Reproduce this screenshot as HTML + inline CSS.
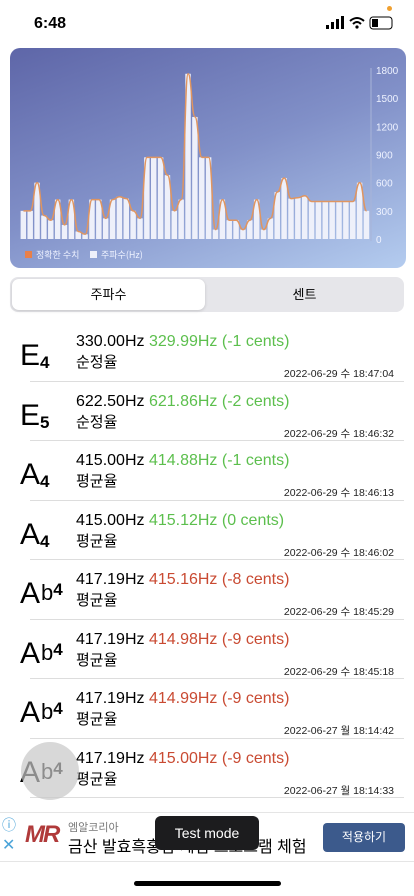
<!DOCTYPE html>
<html><head><meta charset="utf-8"><style>
*{margin:0;padding:0;box-sizing:border-box}
body{width:414px;height:896px;overflow:hidden;background:#fff;font-family:"Liberation Sans","Noto Sans CJK KR",sans-serif;position:relative;color:#000}
.abs{position:absolute}
.row{position:absolute;left:0;width:414px;height:59.5px}
.note{position:absolute;left:20px;top:20px;font-size:30px;line-height:30px;white-space:nowrap}
.note sub{font-size:17px;vertical-align:baseline;position:relative;top:3px;font-weight:bold}
.note .fl{font-size:22px;position:relative;top:-3px;margin-left:1px}
.note .fs{font-size:17px;font-weight:bold;position:relative;top:-8px}
.l1{position:absolute;left:76px;top:12px;font-size:16px;white-space:nowrap}
.l2{position:absolute;left:76px;top:30px;font-size:15px}
.dt{position:absolute;right:20px;top:45px;font-size:10.5px;color:#222}
.div{position:absolute;left:30px;right:10px;bottom:-1px;height:1px;background:#ddd}
.g{color:#5cbf4d}.r{color:#c94a32}
</style></head><body>
<div class="abs" style="left:34px;top:15px;font-size:16px;font-weight:bold">6:48</div>
<div class="abs" style="left:326px;top:16px;width:70px;height:14px">
<svg width="70" height="14"><rect x="0" y="9" width="3" height="4" fill="#000"/><rect x="5" y="6" width="3" height="7" fill="#000"/><rect x="10" y="3" width="3" height="10" fill="#000"/><rect x="15" y="0" width="3" height="13" fill="#000"/><path d="M24 5 Q31 -1 38 5 M27 8 Q31 4 35 8" stroke="#000" stroke-width="2" fill="none"/><circle cx="31" cy="11" r="1.6"/><rect x="44" y="1" width="22" height="12" rx="3" fill="none" stroke="#000"/><rect x="46" y="3" width="6" height="8" fill="#000"/></svg></div>
<div class="abs" style="left:387px;top:6px;width:5px;height:5px;border-radius:50%;background:#f0a030"></div>

<div class="abs" style="left:10px;top:48px;width:396px;height:220px;border-radius:10px;background:linear-gradient(160deg,#5e66a8 0%,#8190c8 50%,#b4ccef 100%);overflow:hidden">
<svg id="chart" width="396" height="220"></svg>
</div>

<div class="abs" style="left:10px;top:277px;width:394px;height:35px;background:#e6e6ea;border-radius:8px">
<div class="abs" style="left:2px;top:2px;width:193px;height:31px;background:#fff;border-radius:7px;box-shadow:0 1px 3px rgba(0,0,0,.15);text-align:center;line-height:31px;font-size:13px">주파수</div>
<div class="abs" style="left:197px;top:2px;width:195px;height:31px;text-align:center;line-height:31px;font-size:13px">센트</div>
</div>

<div id="list"></div>

<div class="abs" style="left:0;top:812px;width:414px;height:50px;border-top:1px solid #e5e5e5;border-bottom:1px solid #e5e5e5">
<div class="abs" style="left:2px;top:2px;color:#4aa3d8;font-size:14px">ⓘ</div>
<div class="abs" style="left:2px;top:22px;color:#4aa3d8;font-size:16px">✕</div>
<div class="abs" style="left:25px;top:8px;font-size:24px;font-style:italic;font-weight:bold;color:#b03a3a;letter-spacing:-2px">MR</div>
<div class="abs" style="left:68px;top:6px;font-size:11px;color:#777">엠알코리아</div>
<div class="abs" style="left:68px;top:20px;font-size:16px">금산 발효흑홍삼 체험 프로그램 체험</div>
<div class="abs" style="left:323px;top:10px;width:82px;height:29px;background:#3c5a8c;color:#fff;border-radius:4px;text-align:center;line-height:29px;font-size:12px">적용하기</div>
</div>
<div class="abs" style="left:155px;top:816px;width:104px;height:34px;background:#1c1c1e;color:#fff;border-radius:6px;text-align:center;line-height:34px;font-size:14px">Test mode</div>
<div class="abs" style="left:134px;top:881px;width:147px;height:5px;border-radius:3px;background:#000"></div>

<script>
const values=[300,300,600,250,200,420,150,420,80,50,420,420,220,420,450,430,300,220,870,870,870,680,300,420,1760,1300,870,870,100,420,200,200,100,200,420,100,220,500,650,430,440,460,400,400,400,400,400,400,400,600,300];
const ticks=[0,300,600,900,1200,1500,1800];
const NS="http://www.w3.org/2000/svg";
const svg=document.getElementById('chart');
const x0=10,x1=360,yb=191,yt=22,ymax=1800;
const bw=(x1-x0)/values.length;
const X=i=>x0+i*bw, Y=v=>yb-(v/ymax)*(yb-yt);
function mk(t,a){const e=document.createElementNS(NS,t);for(const k in a)e.setAttribute(k,a[k]);svg.appendChild(e);return e;}
const axis=mk('line',{x1:361,y1:20,x2:361,y2:193,stroke:'#a8b4d8','stroke-width':1});


ticks.forEach(t=>{const e=mk('text',{x:366,y:Y(t)+4,fill:'#eef2ff','font-size':10,'font-family':'Liberation Sans'});e.textContent=t;

});
values.forEach((v,i)=>{const r=mk('rect',{x:X(i)+0.6,y:Y(v),width:bw-1.4,height:yb-Y(v),fill:'#eef0fa'});

});
let d='';values.forEach((v,i)=>{const cx=X(i)+bw/2,cy=Y(v);if(i==0)d+='M'+cx+' '+cy;else{const px=X(i-1)+bw/2,py=Y(values[i-1]);const mx=(px+cx)/2;d+=' C'+mx+' '+py+' '+mx+' '+cy+' '+cx+' '+cy;}});
const ln=mk('path',{d:d,fill:'none',stroke:'#e09560','stroke-width':1.5});


const lg1=mk('rect',{x:15,y:203,width:7,height:7,fill:'#e8804a'});


const t1=mk('text',{x:26,y:210,fill:'#eef2ff','font-size':9,'font-family':'Noto Sans CJK KR'});t1.textContent='정확한 수치';


const lg2=mk('rect',{x:80,y:203,width:7,height:7,fill:'#eef0fa'});


const t2=mk('text',{x:91,y:210,fill:'#eef2ff','font-size':9,'font-family':'Noto Sans CJK KR'});t2.textContent='주파수(Hz)';



const rows=[
['E','4','','330.00Hz','329.99Hz (-1 cents)','g','순정율','2022-06-29 수 18:47:04'],
['E','5','','622.50Hz','621.86Hz (-2 cents)','g','순정율','2022-06-29 수 18:46:32'],
['A','4','','415.00Hz','414.88Hz (-1 cents)','g','평균율','2022-06-29 수 18:46:13'],
['A','4','','415.00Hz','415.12Hz (0 cents)','g','평균율','2022-06-29 수 18:46:02'],
['A','4','b','417.19Hz','415.16Hz (-8 cents)','r','평균율','2022-06-29 수 18:45:29'],
['A','4','b','417.19Hz','414.98Hz (-9 cents)','r','평균율','2022-06-29 수 18:45:18'],
['A','4','b','417.19Hz','414.99Hz (-9 cents)','r','평균율','2022-06-27 월 18:14:42'],
['A','4','b','417.19Hz','415.00Hz (-9 cents)','r','평균율','2022-06-27 월 18:14:33']];
const list=document.getElementById('list');
rows.forEach((r,i)=>{const el=document.createElement('div');el.className='row';el.style.top=(321+i*59.5)+'px';


const note=r[2]?r[0]+'<span class="fl">b</span><span class="fs">'+r[1]+'</span>':r[0]+'<sub>'+r[1]+'</sub>';
el.innerHTML='<div class="note">'+note+'</div><div class="l1">'+r[3]+' <span class="'+r[5]+'">'+r[4]+'</span></div><div class="l2">'+r[6]+'</div><div class="dt">'+r[7]+'</div><div class="div"></div>';
list.appendChild(el);});
</script>
<div class="abs" style="left:21px;top:742px;width:58px;height:58px;border-radius:50%;background:rgba(200,200,200,.7)"></div>
</body></html>
